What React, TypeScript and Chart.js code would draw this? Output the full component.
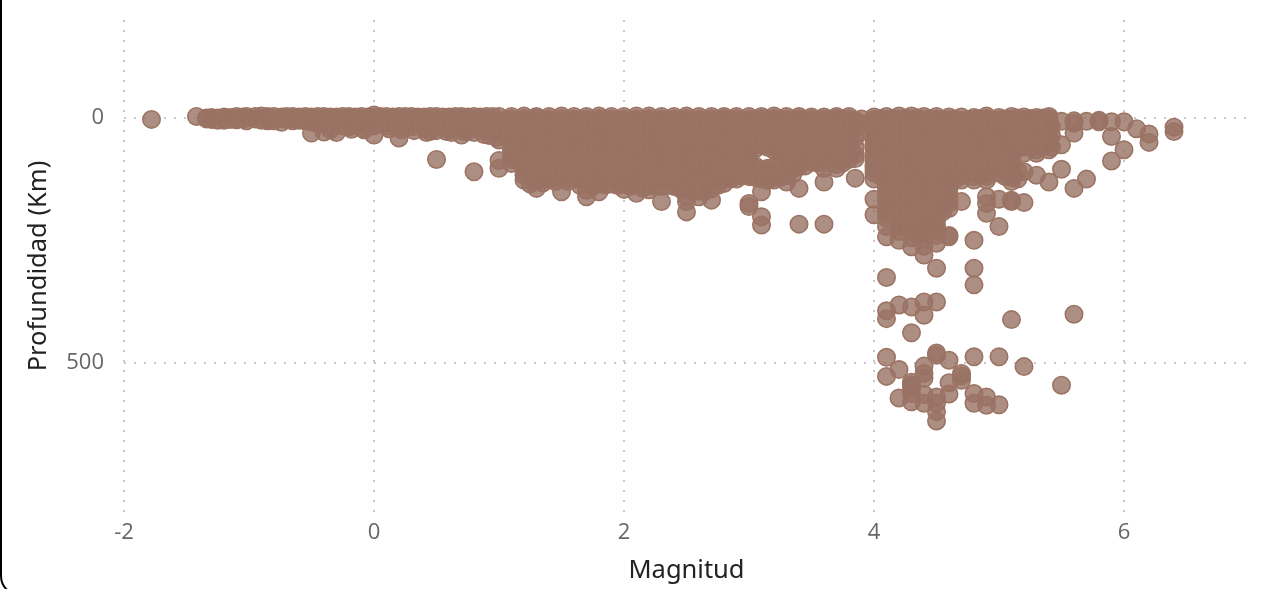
import React, { useEffect, useRef } from "react";
import { Chart, registerables } from "chart.js";

Chart.register(...registerables);

const xTicks = [-2, 0, 2, 4, 6];
const yTicks = [0, 500];
const xTitle = "Magnitud";
const yTitle = "Profundidad (Km)";

const lowColumns: [number, number[]][] = [
  [-1.78, [3]],
  [-1.42, [-3]],
  [-1.34, [0, 2]],
  [-1.3, [-1, 2, 3]],
  [-1.25, [0, 5]],
  [-1.2, [-2, 1, 5]],
  [-1.15, [-1, 3]],
  [-1.1, [-3, 1, 4]],
  [-1.05, [-2, 2]],
  [-1.02, [-3, 0, 6]],
  [-0.95, [-3, 2]],
  [-0.9, [-4, 1, 5]],
  [-0.85, [-3, 3, 6]],
  [-0.8, [-3, 2, 6]],
  [-0.74, [-2, 1, 9]],
  [-0.7, [-3, 3]],
  [-0.65, [-3, 2, 6]],
  [-0.6, [-2, 3, 5]],
  [-0.55, [-3, 1, 6]],
  [-0.5, [-2, 3, 8, 31]],
  [-0.45, [-3, 5, 12]],
  [-0.4, [-3, 2, 9, 29]],
  [-0.35, [-2, 4, 15, 24]],
  [-0.3, [-2, 4, 12, 30]],
  [-0.25, [-3, 6, 16]],
  [-0.2, [-3, 1, 8, 18]],
  [-0.18, [23]],
  [-0.15, [-2, 5, 13]],
  [-0.1, [-3, 2, 9, 20]],
  [-0.08, [24]],
  [-0.05, [-2, 6, 14]],
  [0.0, [-6, -1, 7, 16, 35]],
  [0.05, [-3, 4, 12]],
  [0.1, [-3, 3, 10, 17]],
  [0.12, [22]],
  [0.15, [-2, 6, 14]],
  [0.2, [-3, 2, 10, 20, 41]],
  [0.22, [24]],
  [0.25, [-3, 5, 13]],
  [0.3, [-3, 3, 11, 18]],
  [0.32, [26]],
  [0.35, [-2, 7, 15]],
  [0.4, [-2, 4, 12, 22]],
  [0.42, [30]],
  [0.45, [-3, 8, 17, 28]],
  [0.5, [-3, 5, 14, 26, 85]],
  [0.55, [-2, 7, 17]],
  [0.58, [28]],
  [0.6, [-2, 3, 12, 22]],
  [0.62, [30]],
  [0.65, [-3, 7, 16]],
  [0.7, [-3, 4, 13, 21, 35]],
  [0.72, [28]],
  [0.75, [-2, 8, 17, 27]],
  [0.8, [-3, 6, 15, 30, 110]],
  [0.85, [-2, 9, 20]],
  [0.88, [34]],
  [0.9, [-3, 5, 14, 25]],
  [0.92, [36]],
  [0.95, [-3, 8, 20]],
  [0.98, [40]],
  [1.0, [-3, 6, 15, 28, 45, 87, 103]],
];

const midColumns: [number, number[]][] = [
  [1.1, [-3, 8, 22, 40, 60, 77, 93]],
  [1.2, [-4, 6, 20, 38, 55, 72, 90, 108, 127]],
  [1.3, [-3, 8, 25, 42, 60, 78, 95, 112, 128, 144]],
  [1.4, [-3, 7, 24, 40, 58, 76, 92, 110, 125]],
  [1.5, [-4, 8, 22, 40, 58, 75, 92, 108, 122, 151]],
  [1.6, [-3, 6, 23, 41, 59, 77, 94, 111, 125]],
  [1.7, [-3, 7, 25, 43, 60, 78, 96, 113, 130, 148, 161]],
  [1.8, [-4, 6, 22, 40, 58, 75, 93, 110, 135, 151]],
  [1.9, [-3, 8, 24, 42, 60, 79, 97, 116, 135]],
  [2.0, [-3, 7, 23, 41, 58, 76, 95, 114, 135, 146]],
  [2.1, [-4, 8, 25, 43, 61, 79, 98, 117, 137, 154]],
  [2.2, [-4, 6, 22, 40, 58, 76, 94, 112, 130, 147]],
  [2.3, [-3, 7, 24, 42, 60, 78, 97, 116, 140, 171]],
  [2.4, [-3, 8, 25, 44, 62, 80, 100, 125, 140]],
  [2.5, [-4, 6, 23, 41, 59, 77, 96, 118, 140, 160, 171, 192]],
  [2.6, [-3, 7, 24, 42, 60, 80, 102, 125, 150, 161]],
  [2.7, [-3, 8, 26, 44, 62, 82, 104, 130, 145, 168]],
  [2.8, [-3, 6, 22, 40, 58, 77, 96, 115, 134]],
  [2.9, [-3, 7, 24, 42, 60, 78, 98, 112, 125]],
  [3.0, [-3, 8, 23, 40, 58, 76, 92, 110, 120, 175, 181]],
  [3.1, [-3, 7, 22, 38, 55, 105, 120, 151, 202, 219]],
  [3.2, [-4, 6, 20, 36, 52, 66, 100, 115, 127]],
  [3.3, [-3, 8, 24, 42, 58, 74, 105, 131]],
  [3.4, [-3, 6, 20, 36, 54, 72, 90, 100, 144, 217]],
  [3.5, [-2, 8, 22, 38, 55, 70, 90]],
  [3.6, [-2, 7, 22, 40, 60, 85, 103, 131, 217]],
  [3.7, [-3, 6, 20, 36, 55, 70, 95, 103]],
  [3.8, [-3, 8, 22, 38, 60, 85]],
  [3.85, [83, 123]],
  [3.9, [2, 12, 28]],
];

const midFillColumns: [number, number[]][] = [
  [1.05, [3, 12, 20, 32]],
  [1.1, [2, 15, 31, 50, 68, 85]],
  [1.15, [5, 18, 34, 52, 70, 88]],
  [1.2, [1, 13, 29, 46, 64, 81, 99, 117]],
  [1.25, [4, 16, 33, 51, 69, 87, 104, 120, 135]],
  [1.3, [0, 16, 33, 51, 69, 86, 103, 120]],
  [1.35, [6, 19, 36, 54, 72, 89, 106, 122, 133]],
  [1.4, [2, 15, 32, 49, 67, 84, 101, 118]],
  [1.45, [5, 18, 35, 52, 70, 87, 104, 120, 130]],
  [1.5, [1, 15, 31, 49, 66, 83, 100, 115]],
  [1.55, [4, 20, 37, 55, 72, 90, 107, 122, 130]],
  [1.6, [2, 14, 32, 50, 68, 85, 102, 118]],
  [1.65, [6, 18, 35, 53, 71, 88, 105, 124, 138]],
  [1.7, [2, 16, 34, 51, 69, 87, 104, 121]],
  [1.75, [5, 20, 38, 56, 73, 91, 109, 125, 140]],
  [1.8, [1, 14, 31, 49, 66, 84, 101, 122]],
  [1.85, [4, 17, 35, 53, 70, 88, 106, 126, 137]],
  [1.9, [2, 16, 33, 51, 69, 88, 106, 125]],
  [1.95, [6, 19, 37, 55, 73, 92, 110, 128, 138]],
  [2.0, [2, 15, 32, 49, 67, 85, 104, 124]],
  [2.05, [5, 18, 36, 54, 71, 90, 108, 127, 140]],
  [2.1, [2, 16, 34, 52, 70, 88, 107, 127]],
  [2.15, [4, 20, 38, 56, 74, 93, 111, 130, 143]],
  [2.2, [1, 14, 31, 49, 67, 85, 103, 121, 138]],
  [2.25, [6, 18, 35, 53, 72, 90, 108, 127, 140]],
  [2.3, [2, 15, 33, 51, 69, 87, 106, 128]],
  [2.35, [5, 19, 37, 55, 73, 92, 112, 130, 138]],
  [2.4, [2, 16, 34, 53, 71, 90, 112, 132]],
  [2.45, [4, 18, 36, 54, 73, 92, 113, 134, 145]],
  [2.5, [1, 14, 32, 50, 68, 86, 107, 129]],
  [2.55, [6, 20, 38, 56, 74, 95, 116, 138, 150]],
  [2.6, [2, 15, 33, 51, 70, 91, 113, 137]],
  [2.65, [5, 19, 36, 55, 75, 96, 118, 140, 150]],
  [2.7, [2, 17, 35, 53, 72, 93, 117]],
  [2.75, [4, 20, 38, 55, 74, 93, 110, 128, 138]],
  [2.8, [1, 14, 31, 49, 67, 86, 105, 124]],
  [2.85, [5, 17, 35, 52, 70, 89, 106, 120, 125]],
  [2.9, [2, 15, 33, 51, 69, 88, 105, 118]],
  [2.95, [6, 19, 36, 53, 71, 88, 102, 115, 118]],
  [3.0, [2, 15, 31, 49, 67, 84, 101, 115]],
  [3.05, [4, 18, 34, 50, 63, 98, 112, 122]],
  [3.1, [1, 14, 30, 46, 110, 125]],
  [3.15, [5, 17, 33, 48, 60, 103, 118, 128]],
  [3.2, [1, 13, 28, 44, 59, 107, 121]],
  [3.25, [4, 19, 35, 50, 66, 85, 110, 122]],
  [3.3, [2, 16, 33, 50, 66, 90, 118]],
  [3.35, [6, 18, 34, 50, 70, 88, 105, 115]],
  [3.4, [1, 13, 28, 45, 63, 81, 95]],
  [3.45, [4, 18, 34, 50, 66, 84, 98]],
  [3.5, [2, 15, 30, 46, 62, 80]],
  [3.55, [5, 18, 34, 52, 68, 80, 92]],
  [3.6, [2, 14, 31, 50, 72, 92]],
  [3.65, [4, 17, 34, 52, 66, 82]],
  [3.7, [1, 13, 28, 45, 62, 82]],
  [3.75, [3, 16, 32, 50, 68, 85, 92]],
  [3.8, [2, 15, 30, 48, 72]],
  [3.85, [5, 20, 40, 60, 75]],
];

const highColumns: [number, number[]][] = [
  [4.0, [-2, 10, 28, 45, 62, 80, 97, 112, 125, 166, 198]],
  [4.1, [-3, 12, 30, 48, 65, 82, 100, 118, 135, 150, 168, 185, 205, 222, 243]],
  [4.2, [-4, 10, 28, 46, 64, 84, 102, 122, 142, 160, 178, 195, 212, 232, 250]],
  [4.3, [-4, 9, 27, 45, 63, 82, 100, 120, 140, 158, 176, 192, 210, 245, 263]],
  [4.4, [-3, 12, 30, 50, 68, 86, 105, 125, 145, 165, 185, 205, 225, 245, 280]],
  [4.5, [-3, 8, 26, 44, 62, 80, 100, 120, 140, 160, 180, 200, 220, 240, 256]],
  [4.6, [-2, 10, 28, 46, 66, 85, 105, 125, 145, 165, 185, 240, 243]],
  [4.7, [-2, 12, 30, 50, 70, 90, 108, 127, 171]],
  [4.8, [-1, 8, 25, 42, 60, 78, 95, 112, 127]],
  [4.9, [-4, 6, 22, 40, 58, 76, 95, 112, 127, 161, 175, 195]],
  [5.0, [-1, 10, 28, 46, 64, 82, 98, 113, 166, 222]],
  [5.1, [-3, 8, 25, 42, 60, 78, 96, 114, 130, 168, 171]],
  [5.2, [-2, 8, 24, 42, 59, 110, 173]],
  [5.3, [-1, 10, 28, 46, 65, 117]],
  [5.4, [-3, 6, 24, 42, 65, 131]],
  [5.5, [7, 55, 105]],
  [5.6, [6, 11, 31, 144]],
  [5.7, [7, 125]],
  [5.8, [5, 8]],
  [5.9, [8, 38, 88]],
  [6.0, [8, 65]],
  [6.1, [22]],
  [6.2, [33, 50]],
  [6.4, [19, 28]],
];

const highFillColumns: [number, number[]][] = [
  [4.0, [3, 19, 36, 54, 71, 88, 105]],
  [4.05, [1, 16, 33, 50, 68, 85, 103, 118]],
  [4.1, [3, 21, 39, 56, 74, 91, 109, 126, 143, 159, 177, 195]],
  [4.15, [1, 17, 34, 52, 70, 88, 106, 124, 142, 160, 178]],
  [4.2, [2, 19, 37, 55, 74, 93, 112, 132, 151, 169, 186, 203, 222]],
  [4.25, [0, 15, 32, 50, 68, 86, 105, 124, 143, 162, 180, 198, 216]],
  [4.3, [2, 18, 36, 54, 72, 91, 110, 130, 149, 167, 184, 201, 228]],
  [4.35, [0, 16, 34, 52, 71, 90, 109, 128, 148, 167, 186, 204, 224, 240]],
  [4.4, [4, 21, 40, 59, 77, 95, 115, 135, 155, 175, 195, 215, 235, 262]],
  [4.45, [1, 15, 33, 51, 70, 88, 107, 126, 146, 166, 186, 206, 226]],
  [4.5, [2, 17, 35, 53, 71, 90, 110, 130, 150, 170, 190, 210, 230]],
  [4.55, [3, 19, 37, 55, 74, 93, 112, 132, 152, 172, 192]],
  [4.6, [4, 19, 37, 56, 75, 95, 115, 135, 155, 175]],
  [4.65, [2, 18, 36, 55, 74, 92, 110, 125]],
  [4.7, [5, 21, 40, 60, 80, 99, 118]],
  [4.75, [3, 17, 34, 52, 70, 88, 106]],
  [4.8, [3, 16, 33, 51, 69, 86, 103, 120]],
  [4.85, [1, 15, 32, 50, 68, 86, 104, 118]],
  [4.9, [1, 14, 31, 49, 67, 85, 103, 120]],
  [4.95, [4, 18, 36, 54, 72, 90, 108]],
  [5.0, [4, 19, 37, 55, 73, 90, 106]],
  [5.05, [2, 16, 33, 51, 69, 87, 105, 120]],
  [5.1, [2, 16, 33, 51, 69, 87, 105, 122]],
  [5.15, [0, 14, 30, 48, 62, 108, 125]],
  [5.2, [3, 16, 33, 50, 72]],
  [5.25, [1, 15, 31, 48, 60]],
  [5.3, [4, 19, 37, 45, 55, 72]],
  [5.35, [0, 14, 30, 48, 58]],
  [5.4, [1, 15, 33, 52]],
  [5.42, [18, 36, 60]],
];

const deepColumns: [number, number[]][] = [
  [4.1, [326, 394, 410, 489, 528]],
  [4.2, [382, 514, 572]],
  [4.3, [386, 439, 540, 550, 563, 580, 545]],
  [4.4, [376, 403, 507, 522, 532, 565, 583]],
  [4.5, [307, 376, 480, 485, 570, 583, 600, 619]],
  [4.6, [495, 541, 564]],
  [4.7, [522, 527, 536]],
  [4.8, [250, 307, 341, 488, 563, 583]],
  [4.9, [570, 587]],
  [5.0, [488, 586]],
  [5.1, [412]],
  [5.2, [508]],
  [5.5, [546]],
  [5.6, [401]],
];

const toPoints = (columns: [number, number[]][]) =>
  columns.flatMap(([x, depths]) => depths.map((y) => ({ x, y })));

export default function App() {
  const ref = useRef<HTMLCanvasElement>(null);
  useEffect(() => {
    const chart = new Chart(ref.current!, {
      type: "scatter",
      data: {
        datasets: [
          {
            data: [
              ...toPoints(lowColumns),
              ...toPoints(midColumns),
              ...toPoints(midFillColumns),
              ...toPoints(highColumns),
              ...toPoints(highFillColumns),
              ...toPoints(deepColumns),
            ],
            pointRadius: 8.7,
            pointBorderWidth: 1.6,
            backgroundColor: "rgba(153,114,100,0.8)",
            borderColor: "rgb(155,116,100)",
          },
        ],
      },
      options: {
        animation: false,
        responsive: false,
        layout: { padding: { top: 20, right: 17, left: 0, bottom: 0 } },
        plugins: { legend: { display: false }, tooltip: { enabled: false } },
        scales: {
          x: {
            type: "linear",
            min: -2,
            max: 7,
            afterBuildTicks: (s: any) => {
              s.ticks = xTicks.map((value) => ({ value }));
            },
            afterFit: (s: any) => {
              s.height = 77;
              s.paddingLeft = 0;
              s.paddingRight = 0;
            },
            grid: { color: "#c8c8c8", lineWidth: 2, drawTicks: false },
            border: { display: false, dash: [2, 8] },
            ticks: {
              color: "#666",
              padding: 8,
              maxRotation: 0,
              font: { family: "Open Sans", size: 22 },
            },
            title: {
              display: true,
              text: xTitle,
              color: "#222",
              padding: { top: 8, bottom: 3 },
              font: { family: "Noto Sans", size: 25.5 },
            },
          },
          y: {
            type: "linear",
            reverse: true,
            min: -200,
            max: 805,
            afterBuildTicks: (s: any) => {
              s.ticks = yTicks.map((value) => ({ value }));
            },
            afterFit: (s: any) => {
              s.width = 124;
              s.paddingTop = 0;
              s.paddingBottom = 0;
            },
            grid: { color: "#c8c8c8", lineWidth: 2, drawTicks: false },
            border: { display: false, dash: [2, 8] },
            ticks: {
              color: "#666",
              padding: 20,
              font: { family: "Open Sans", size: 22 },
            },
            title: {
              display: true,
              text: yTitle,
              color: "#222",
              padding: { top: 23, bottom: 0 },
              font: { family: "Noto Sans", size: 25.5 },
            },
          },
        },
      },
    });
    return () => chart.destroy();
  }, []);
  return (
    <div style={{ position: "fixed", left: 0, top: 0, width: 1266, height: 589, overflow: "hidden", background: "#fff" }}>
      <canvas ref={ref} width={1266} height={589} style={{ display: "block", width: 1266, height: 589 }} />
      <div
        style={{
          position: "absolute",
          left: 0,
          top: -40,
          width: 1400,
          height: 636,
          boxSizing: "border-box",
          border: "2px solid #000",
          borderRadius: 20,
          pointerEvents: "none",
        }}
      />
    </div>
  );
}
